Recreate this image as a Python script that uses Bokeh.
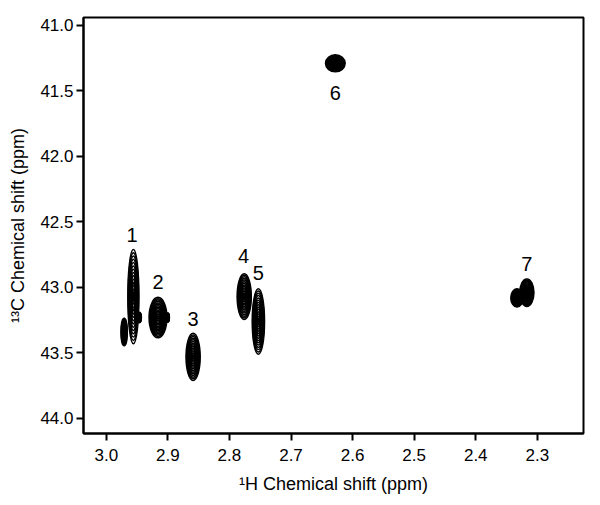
from bokeh.plotting import figure
from bokeh.models import Range1d, FixedTicker, PrintfTickFormatter, ColumnDataSource
from bokeh.core.properties import value
from bokeh.embed import file_html
from bokeh.resources import INLINE

# Peak centres (1H ppm, 13C ppm) and full extents (ppm) of the outermost contour
peak_h = [2.956, 2.971, 2.946, 2.916, 2.900, 2.859, 2.776, 2.753, 2.628, 2.317, 2.333]
peak_c = [43.07, 43.34, 43.23, 43.23, 43.23, 43.53, 43.07, 43.26, 41.29, 43.04, 43.08]
peak_wh = [0.018, 0.010, 0.006, 0.029, 0.005, 0.023, 0.023, 0.020, 0.032, 0.023, 0.020]
peak_wc = [0.72, 0.21, 0.08, 0.31, 0.07, 0.36, 0.35, 0.50, 0.13, 0.21, 0.14]

# Contour levels (fraction of outermost contour size)
levels = [1.0, 0.93, 0.86, 0.79, 0.72, 0.65, 0.58, 0.51, 0.44, 0.37, 0.30, 0.23, 0.16, 0.09]

# Peak labels
label_text = ["1", "2", "3", "4", "5", "6", "7"]
label_h = [2.958, 2.916, 2.859, 2.777, 2.753, 2.628, 2.317]
label_c = [42.60, 42.96, 43.24, 42.76, 42.89, 41.52, 42.82]

x_ticks = [3.0, 2.9, 2.8, 2.7, 2.6, 2.5, 2.4, 2.3]
y_ticks = [41.0, 41.5, 42.0, 42.5, 43.0, 43.5, 44.0]

FONT = "Liberation Sans"

p = figure(width=592, height=497, output_backend="svg", toolbar_location=None,
           x_range=Range1d(3.037, 2.225), y_range=Range1d(44.115, 40.94),
           min_border_left=83, min_border_right=9, min_border_top=17, min_border_bottom=64)
p.background_fill_color = "white"
p.border_fill_color = "white"
p.outline_line_color = "black"
p.outline_line_width = 2
p.xgrid.visible = False
p.ygrid.visible = False

xs, ys, ws, hs = [], [], [], []
for hx, cy, w, h in zip(peak_h, peak_c, peak_wh, peak_wc):
    for f in levels:
        xs.append(hx); ys.append(cy); ws.append(w * f); hs.append(h * f)
src = ColumnDataSource(dict(x=xs, y=ys, w=ws, h=hs))
p.ellipse(x="x", y="y", width="w", height="h", source=src,
          fill_color=None, line_color="black", line_width=1.5)

lsrc = ColumnDataSource(dict(x=label_h, y=label_c, t=label_text))
p.text(x="x", y="y", text="t", source=lsrc, text_font=value(FONT),
       text_font_size="20px", text_align="center", text_baseline="middle",
       text_color="black")

for ax in (p.xaxis[0], p.yaxis[0]):
    ax.major_label_text_font = FONT
    ax.major_label_text_font_size = "17px"
    ax.major_label_text_color = "black"
    ax.axis_label_text_font = FONT
    ax.axis_label_text_font_size = "18px"
    ax.axis_label_text_font_style = "normal"
    ax.axis_label_text_color = "black"
    ax.axis_line_color = "black"
    ax.axis_line_width = 2
    ax.major_tick_line_color = "black"
    ax.major_tick_line_width = 2
    ax.major_tick_out = 7
    ax.major_tick_in = 0
    ax.minor_tick_line_color = None
    ax.formatter = PrintfTickFormatter(format="%.1f")

p.xaxis[0].ticker = FixedTicker(ticks=x_ticks)
p.yaxis[0].ticker = FixedTicker(ticks=y_ticks)
p.xaxis[0].axis_label = "¹H Chemical shift (ppm)"
p.yaxis[0].axis_label = "¹³C Chemical shift (ppm)"
p.xaxis[0].major_label_standoff = 8
p.yaxis[0].major_label_standoff = 3
p.xaxis[0].axis_label_standoff = 10
p.yaxis[0].axis_label_standoff = 9

open("out.html", "w").write(file_html(p, INLINE))
